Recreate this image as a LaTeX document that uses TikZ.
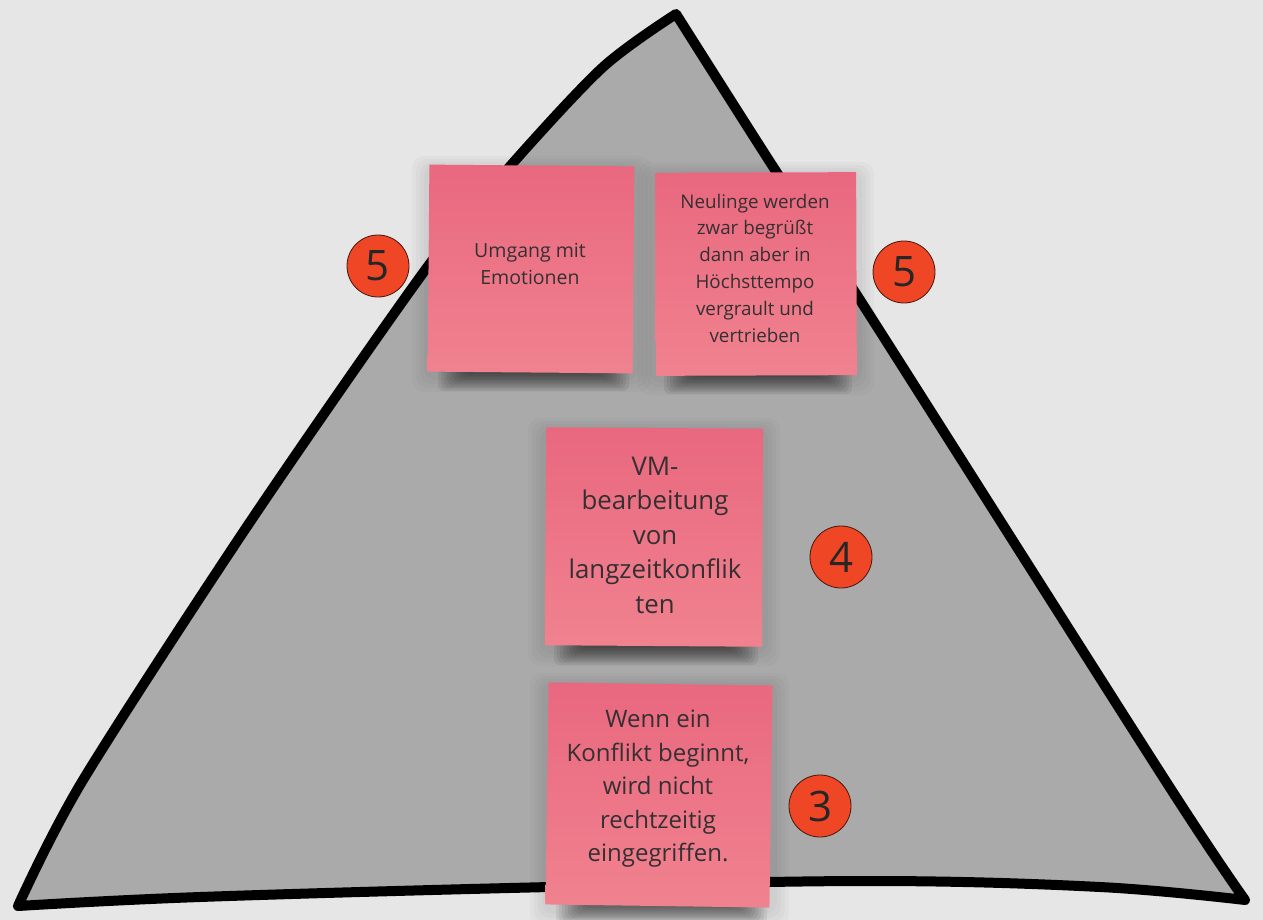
\documentclass[tikz,border=0pt]{standalone}
\usepackage{fontspec}
\setmainfont{Open Sans}
\definecolor{bg}{HTML}{E6E6E6}
\definecolor{tri}{HTML}{AAAAAA}
\definecolor{notetop}{HTML}{E9687F}
\definecolor{notebot}{HTML}{F0828F}
\definecolor{badge}{HTML}{EF4626}
\definecolor{txt}{HTML}{343032}
\tikzset{
  sticky/.style={draw=none, top color=notetop, bottom color=notebot, inner sep=0pt},
  halolayer/.style={fill=black, fill opacity=0.022, rounded corners=12pt},
  shadowlayer/.style={fill=black, fill opacity=0.065, rounded corners=6pt},
  notetext/.style={text=txt, align=center, inner sep=0pt},
  badgenode/.style={circle, fill=badge, draw=black!70!badge, line width=0.8pt, minimum size=62pt, inner sep=0pt, text=black!85, font=\fontsize{42}{42}\selectfont}
}
\newcommand\noteshade[4]{% xl xr yt yb
  \foreach \k in {0,1,2,3}{
    \path[halolayer] (#1-6-\k*4,#3-2-\k*3) rectangle (#2+6+\k*4,#4+8+\k*4);
  }
  \foreach \k in {0,...,9}{
    \path[shadowlayer] (#1+8+\k*3,#4-12) rectangle (#2-4-\k*3,#4+19-\k*1.9);
  }
}
\begin{document}
\begin{tikzpicture}[x=1pt,y=-1pt]
\useasboundingbox (0,0) rectangle (1263,920);
\clip (0,0) rectangle (1263,920);
\path[fill=bg] (0,0) rectangle (1263,920);
% triangle
\draw[line width=10pt, line join=round, fill=tri]
  plot[smooth, tension=0.5] coordinates {(676,14) (602,68) (505,172) (423,273) (250,522) (83,780) (18,906)}
  -- plot[smooth, tension=0.6] coordinates {(18,906) (200,897) (550,887) (870,881) (1100,887) (1245,900)}
  -- plot[smooth, tension=0.5] coordinates {(1245,900) (1165,780) (860,300) (770,162) (676,14)}
  -- cycle;
% shadows
\noteshade{430}{633}{167}{372}
\noteshade{656}{856}{173}{375}
\noteshade{546}{762}{429}{646}
\noteshade{548}{771}{684}{906}
% notes
\node[sticky, minimum width=205pt, minimum height=207pt, rotate=-0.5] (n1) at (531,269) {};
\node[sticky, minimum width=201pt, minimum height=203pt, rotate=0.2] (n2) at (756,274) {};
\node[sticky, minimum width=217pt, minimum height=218pt, rotate=-0.4] (n3) at (654,537) {};
\node[sticky, minimum width=224pt, minimum height=222pt, rotate=-0.8] (n4) at (659,795) {};
% note texts
\node[notetext, font=\fontsize{19.5}{27}\selectfont] (t1) at (530,264) {Umgang mit\\Emotionen};
\node[notetext, font=\fontsize{18.8}{26.8}\selectfont] (t2) at (755,268) {Neulinge werden\\zwar begrüßt\\dann aber in\\Höchsttempo\\vergrault und\\vertrieben};
\node[notetext, font=\fontsize{25.8}{34.5}\selectfont] (t3) at (655,535) {VM-\\bearbeitung\\von\\langzeitkonflik\\ten};
\node[notetext, font=\fontsize{24}{33.5}\selectfont] (t4) at (658,789) {Wenn ein\\Konflikt beginnt,\\wird nicht\\rechtzeitig\\eingegriffen.};
% badges
\node[badgenode] (b1) at (378,266) {5};
\node[badgenode] (b2) at (904,272) {5};
\node[badgenode] (b3) at (841,557) {4};
\node[badgenode] (b4) at (820,806) {3};
\end{tikzpicture}
\end{document}
